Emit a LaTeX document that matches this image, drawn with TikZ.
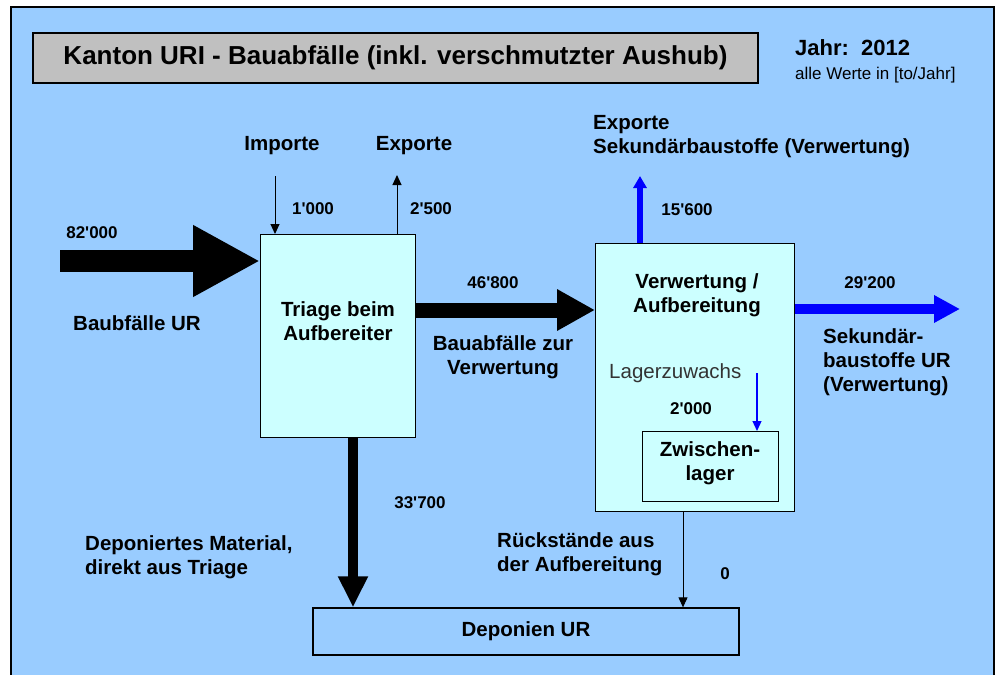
\documentclass[tikz,border=0pt]{standalone}
\usepackage{fontspec}
\setmainfont{Liberation Sans}[Ligatures=TeXOff]
\usetikzlibrary{arrows.meta}
\definecolor{bgblue}{HTML}{99CCFF}
\definecolor{boxcyan}{HTML}{CCFFFF}
\definecolor{titlegray}{HTML}{C0C0C0}
\definecolor{flowblue}{HTML}{0000FF}
\definecolor{darktext}{HTML}{333333}
\begin{document}
\begin{tikzpicture}[x=1pt,y=-1pt,
  lbl/.style={inner sep=0pt,font=\fontsize{20.5}{24}\selectfont\bfseries,align=center},
  lbll/.style={lbl,align=left,anchor=west},
  num/.style={inner sep=0pt,font=\fontsize{17}{20}\selectfont\bfseries},
  procbox/.style={draw=black,line width=1.3pt,fill=boxcyan,inner sep=0pt,anchor=north west},
  plainbox/.style={draw=black,line width=1.3pt,inner sep=0pt},
  thinarrow/.style={line width=1pt,-{Triangle[width=9pt,length=10pt]}},
]
\useasboundingbox (0,0) rectangle (1002,675);
% frame
\path[fill=bgblue,draw=black,line width=2pt] (11,7) rectangle (994,685);
% title
\node[plainbox,fill=titlegray,minimum width=725pt,minimum height=50pt,
  font=\fontsize{26}{30}\selectfont\bfseries] (title) at (395.5,58)
  {Kanton URI - Bauabfälle (inkl. verschmutzter Aushub)};
\node[inner sep=0pt,anchor=west,font=\fontsize{22}{26}\selectfont\bfseries] (jahr) at (795,48) {Jahr:\ \ 2012};
\node[inner sep=0pt,anchor=west,font=\fontsize{17}{20}\selectfont] (werte) at (795,75) {alle Werte in [to/Jahr]};

% boxes
\node[procbox,minimum width=155pt,minimum height=203pt] (triage) at (260,234) {};
\node[lbl] (triaget) at (338,321) {Triage beim\\Aufbereiter};
\node[procbox,minimum width=199pt,minimum height=268pt] (verw) at (595,243) {};
\node[lbl] (verwt) at (697,295) {Verwertung /\\Aufbereitung};
\node[procbox,minimum width=136pt,minimum height=70pt] (zw) at (642,431) {};
\node[lbl] (zwt) at (710,463) {Zwischen-\\lager};
\node[plainbox,minimum width=426pt,minimum height=47pt,font=\fontsize{20.5}{24}\selectfont\bfseries] (depo) at (526,631.5) {Deponien UR};

% coordinates for free ends
\coordinate (s82) at (60,261);
\coordinate (imp) at (275,176);
\coordinate (exp) at (397,175);
\coordinate (m46) at (500,310);
\coordinate (e156) at (640,176);
\coordinate (e292) at (960,309);
\coordinate (lz) at (757,373);
\coordinate (a33) at (353,0);
\coordinate (rk) at (683,0);

% arrows
\draw[black,line width=22pt,-{Triangle[width=67pt,length=67pt]}] (s82) -- (s82 -| triage.west);
\draw[thinarrow] (imp) -- (imp |- triage.north);
\draw[thinarrow] (exp |- triage.north) -- (exp);
\draw[black,line width=15pt,-{Triangle[width=39pt,length=38pt]}] (m46 -| triage.east) -- (m46 -| verw.west);
\draw[flowblue,line width=5.5pt,-{Triangle[width=13pt,length=12pt]}] (e156 |- verw.north) -- (e156);
\draw[flowblue,line width=10pt,-{Triangle[width=26pt,length=26pt]}] (e292 -| verw.east) -- (e292);
\draw[flowblue,line width=1.2pt,-{Triangle[width=9pt,length=10pt]}] (lz) -- (lz |- zw.north);
\draw[black,line width=10pt,-{Triangle[width=28pt,length=31pt]}] (a33 |- triage.south) -- (a33 |- depo.north);
\draw[thinarrow] (rk |- verw.south) -- (rk |- depo.north);

% labels
\node[lbl] (limp) at (282,146) {Importe};
\node[lbl] (lexp) at (414,146) {Exporte};
\node[num] (n1000) at (313,209) {1'000};
\node[num] (n2500) at (431,209) {2'500};
\node[num] (n82) at (92,233) {82'000};
\node[lbl] (lbau) at (137,323) {Baubfälle UR};
\node[num] (n46) at (493,283) {46'800};
\node[lbl] (lbzv) at (503,357) {Bauabfälle zur\\Verwertung};
\node[lbll] (lexps) at (593,137) {Exporte\\Sekundärbaustoffe (Verwertung)};
\node[num] (n156) at (687,210) {15'600};
\node[num] (n292) at (870,283) {29'200};
\node[lbll] (lsek) at (823,362) {Sekundär-\\baustoffe UR\\(Verwertung)};
\node[inner sep=0pt,anchor=west,text=darktext,font=\fontsize{20.5}{24}\selectfont] (llz) at (609,373) {Lagerzuwachs};
\node[num] (n2000) at (691,409) {2'000};
\node[num] (n337) at (420,503) {33'700};
\node[lbll] (ldep) at (85,557) {Deponiertes Material,\\direkt aus Triage};
\node[lbll] (lrk) at (497,554) {Rückstände aus\\der Aufbereitung};
\node[num] (n0) at (725,574) {0};
\end{tikzpicture}
\end{document}
